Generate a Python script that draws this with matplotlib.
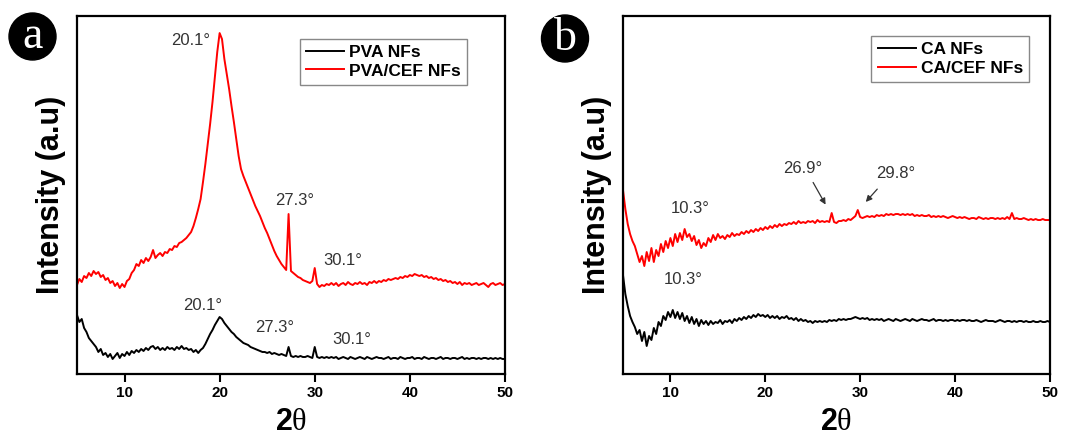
import matplotlib
matplotlib.use("Agg")
import matplotlib.pyplot as plt
from matplotlib.patches import Circle
import numpy as np

plt.rcParams["font.family"] = ["Liberation Sans", "DejaVu Sans"]
plt.rcParams["mathtext.fontset"] = "custom"
plt.rcParams["mathtext.rm"] = "Liberation Serif"
plt.rcParams["mathtext.bf"] = "Liberation Sans:bold"

# 2-theta grid, 0.25 deg step, 5..50 (one row of values per degree)
two_theta = np.arange(5.0, 50.001, 0.25)

pva_cef = [
    89, 95, 92, 98,  96, 101, 98, 103,  100, 102, 97, 99,  94, 96, 91, 93,  88, 91, 86, 90,
    87, 93, 95, 101,  104, 110, 108, 114,  111, 116, 113, 117,  124, 116, 119, 121,  118, 122, 121, 125,
    124, 128, 127, 131,  132, 134, 136, 139,  142, 148, 156, 165,  175, 192, 210, 230,  250, 272, 297, 322,
    341, 335, 315, 300,  285, 268, 252, 235,  218, 205, 198, 192,  186, 180, 174, 168,  163, 158, 152, 146,
    141, 135, 129, 123,  118, 114, 110, 107,  104, 160, 103, 101,  99, 97, 96, 94,  93, 92, 91, 93,
    106, 90, 87, 89,  88, 90, 89, 91,  89, 91, 88, 90,  91, 89, 92, 90,  89, 91, 90, 92,
    90, 91, 89, 92,  91, 93, 91, 93,  92, 94, 93, 95,  94, 95, 96, 95,  97, 96, 98, 97,
    99, 98, 100, 99,  98, 99, 97, 98,  96, 97, 95, 96,  94, 95, 93, 94,  92, 93, 91, 92,
    90, 92, 89, 91,  90, 91, 89, 90,  91, 89, 90, 91,  89, 87, 90, 91,  89, 90, 91, 89,
    90,
]
pva = [
    59, 52, 55, 46,  42, 36, 33, 30,  27, 22, 25, 19,  21, 17, 20, 15,  18, 21, 16, 20,
    18, 22, 19, 23,  21, 24, 22, 25,  23, 26, 24, 27,  28, 25, 27, 24,  26, 24, 27, 25,
    26, 24, 27, 25,  28, 25, 26, 24,  25, 22, 24, 21,  24, 26, 30, 35,  40, 44, 49, 53,
    57, 55, 51, 48,  45, 42, 40, 37,  35, 33, 31, 30,  29, 27, 26, 25,  24, 23, 22, 22,
    21, 22, 20, 21,  20, 19, 20, 19,  18, 27, 18, 17,  18, 17, 18, 17,  17, 18, 17, 16,
    27, 17, 16, 17,  16, 17, 16, 17,  16, 17, 15, 16,  17, 16, 15, 17,  16, 15, 16, 17,
    16, 15, 17, 16,  15, 16, 17, 16,  16, 15, 16, 17,  15, 16, 16, 15,  17, 16, 15, 16,
    16, 17, 15, 16,  16, 15, 17, 16,  15, 16, 16, 15,  16, 17, 15, 16,  16, 15, 16, 16,
    15, 16, 17, 15,  16, 15, 16, 16,  15, 16, 15, 16,  16, 15, 16, 15,  16, 15, 16, 15,
    15,
]
ca_cef = [
    184, 165, 150, 140,  133, 128, 120, 112,  118, 108, 122, 113,  126, 112, 124, 118,  130, 122, 133, 126,
    136, 128, 140, 132,  141, 134, 145, 137,  140, 133, 138, 129,  134, 126, 131, 128,  136, 132, 139, 134,
    140, 136, 138, 135,  139, 137, 141, 138,  140, 139, 142, 140,  143, 141, 144, 142,  145, 143, 146, 144,
    147, 145, 148, 146,  149, 147, 150, 148,  150, 149, 151, 150,  152, 150, 153, 151,  152, 151, 153, 152,
    153, 151, 154, 152,  153, 152, 153, 152,  161, 152, 151, 153,  153, 154, 153, 155,  154, 156, 158, 164,
    157, 156, 157, 158,  157, 158, 157, 159,  158, 159, 158, 160,  159, 160, 159, 160,  160, 159, 160, 159,
    160, 159, 160, 158,  159, 158, 159, 158,  158, 159, 157, 158,  157, 158, 157, 158,  157, 156, 157, 158,
    157, 156, 157, 156,  157, 156, 155, 156,  156, 155, 157, 156,  155, 156, 155, 156,  156, 155, 156, 155,
    156, 155, 157, 155,  161, 155, 156, 155,  155, 156, 155, 154,  155, 154, 155, 154,  154, 155, 154, 154,
    154,
]
ca = [
    99, 80, 68, 58,  52, 47, 40, 44,  33, 42, 28, 38,  34, 46, 40, 52,  48, 58, 54, 62,
    57, 64, 56, 62,  55, 61, 53, 58,  51, 57, 50, 55,  48, 54, 50, 53,  49, 53, 50, 52,
    51, 54, 50, 53,  52, 54, 51, 55,  53, 56, 54, 57,  55, 58, 56, 59,  57, 60, 58, 59,
    57, 59, 56, 58,  56, 58, 55, 57,  56, 58, 55, 56,  54, 56, 53, 55,  53, 54, 52, 53,
    51, 53, 52, 53,  52, 53, 52, 54,  53, 54, 53, 55,  54, 55, 54, 55,  55, 56, 57, 56,
    55, 56, 55, 56,  54, 55, 54, 55,  54, 55, 53, 54,  55, 54, 53, 55,  54, 53, 54, 55,
    54, 53, 55, 54,  53, 54, 55, 54,  54, 53, 54, 55,  53, 54, 54, 53,  54, 53, 54, 54,
    53, 54, 53, 54,  54, 53, 54, 53,  53, 54, 53, 52,  53, 54, 53, 53,  53, 52, 53, 54,
    53, 52, 53, 53,  52, 53, 52, 53,  53, 52, 53, 52,  52, 53, 52, 52,  53, 52, 52, 53,
    52,
]

# peak labels: (text, x, y)
pva_cef_peaks = [("20.1°", 17.0, 334), ("27.3°", 27.9, 174), ("30.1°", 32.9, 114)]
pva_peaks = [("20.1°", 18.2, 69), ("27.3°", 25.8, 46), ("30.1°", 33.9, 34)]
ca_cef_peaks = [("10.3°", 12.1, 166), ("26.9°", 23.9, 206), ("29.8°", 33.7, 201)]
ca_peaks = [("10.3°", 11.3, 95)]
# arrows for CA/CEF: (x_start, y_start, x_end, y_end)
ca_cef_arrows = [(24.9, 194, 26.5, 167), (32.0, 187, 30.4, 170)]

X_TICKS = [10, 20, 30, 40, 50]
Y_MAX = 358
ANNOT_COLOR = "#333333"


def style_panel(axis, label, circle_xy, fig):
    axis.set_xlim(5, 50)
    axis.set_ylim(0, Y_MAX)
    axis.set_xticks(X_TICKS)
    axis.set_yticks([])
    axis.tick_params(axis="x", direction="out", length=6, width=1.5, labelsize=11, pad=3)
    for tick in axis.get_xticklabels():
        tick.set_fontweight("bold")
    for spine in axis.spines.values():
        spine.set_linewidth(1.6)
    axis.set_xlabel(r"$\mathbf{2}\mathrm{\theta}$", fontsize=22, labelpad=5)
    axis.set_ylabel("Intensity (a.u)", fontsize=22, fontweight="bold", labelpad=8)

    # round badge with the panel letter, placed in pixels
    cx, cy = circle_xy
    w, h = fig.get_size_inches() * fig.dpi
    circle = Circle((cx / fig.dpi, (h - cy) / fig.dpi), 23.5 / fig.dpi,
                    transform=fig.dpi_scale_trans, color="black")
    fig.patches.append(circle)
    fig.text(cx / w, 1 - cy / h, label, ha="center", va="center", color="white",
             fontsize=33, family=["Liberation Serif", "DejaVu Serif"])


def add_legend(axis, anchor):
    legend = axis.legend(loc="upper right", bbox_to_anchor=anchor, fancybox=False, framealpha=1,
                         edgecolor="#888888", prop={"weight": "bold", "size": 12.5},
                         handlelength=2.2, handletextpad=0.3, borderpad=0.35, labelspacing=0.2)
    legend.get_frame().set_linewidth(1.0)


fig = plt.figure(figsize=(10.78, 4.37), dpi=100)
ax_a = fig.add_axes([0.0714, 0.1442, 0.397, 0.819])
ax_b = fig.add_axes([0.5779, 0.1442, 0.396, 0.819])

ax_a.plot(two_theta, pva, color="black", linewidth=1.4, label="PVA NFs")
ax_a.plot(two_theta, pva_cef, color="red", linewidth=1.4, label="PVA/CEF NFs")
for text, x, y in pva_cef_peaks + pva_peaks:
    ax_a.text(x, y, text, ha="center", va="center", fontsize=12, color=ANNOT_COLOR)
style_panel(ax_a, "a", (32.5, 36.5), fig)
add_legend(ax_a, (0.932, 0.961))

ax_b.plot(two_theta, ca, color="black", linewidth=1.4, label="CA NFs")
ax_b.plot(two_theta, ca_cef, color="red", linewidth=1.4, label="CA/CEF NFs")
for text, x, y in ca_cef_peaks + ca_peaks:
    ax_b.text(x, y, text, ha="center", va="center", fontsize=12, color=ANNOT_COLOR)
for x0, y0, x1, y1 in ca_cef_arrows:
    ax_b.annotate("", xy=(x1, y1), xytext=(x0, y0),
                  arrowprops=dict(arrowstyle="-|>", color="#333333", lw=0.9, mutation_scale=9))
style_panel(ax_b, "b", (565, 38.5), fig)
add_legend(ax_b, (0.972, 0.969))

fig.savefig("out.png", dpi=100)
plt.close(fig)
